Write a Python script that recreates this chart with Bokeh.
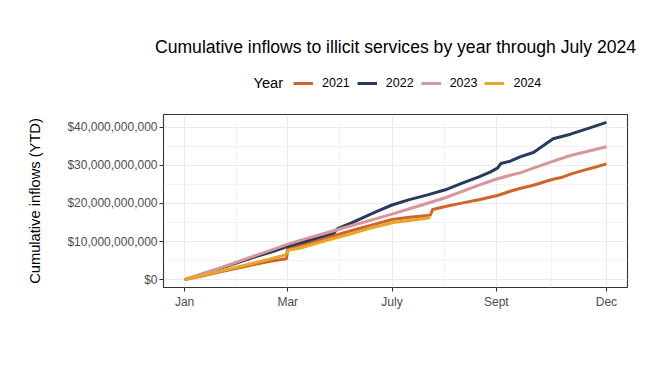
from bokeh.plotting import figure
from bokeh.layouts import column
from bokeh.models import (Range1d, FixedTicker, NumeralTickFormatter, Legend,
                          LegendItem, Label, Spacer)
from bokeh.embed import file_html
from bokeh.resources import INLINE

TITLE = "Cumulative inflows to illicit services by year through July 2024"
Y_LABEL = "Cumulative inflows (YTD)"
LEGEND_TITLE = "Year"

# x axis: day of year, tick labels as shown
x_tick_days = [1, 90, 180, 270, 365]
x_tick_labels = ["Jan", "Mar", "July", "Sept", "Dec"]
x_minor_days = [45.5, 135, 225, 317.5]
y_ticks = [0, 10e9, 20e9, 30e9, 40e9]
y_minor = [5e9, 15e9, 25e9, 35e9]

years = ["2021", "2022", "2023", "2024"]
colors = ["#D0652A", "#283A5E", "#D8959B", "#E9A626"]

# cumulative inflows in billions USD, by day of year
days_2021 = [1, 15, 30, 45, 60, 75, 89, 90, 105, 120, 135, 150, 167, 180, 195, 213,
             215, 226, 240, 255, 271, 282, 291, 302, 318, 326, 334, 345, 355, 365]
vals_2021 = [0, 0.9, 1.9, 2.9, 3.9, 4.8, 5.5, 8.2, 9.4, 10.7, 12.0, 13.3, 14.7, 15.8, 16.4, 16.9,
             18.4, 19.2, 20.1, 21.0, 22.1, 23.2, 24.0, 24.8, 26.3, 26.8, 27.7, 28.7, 29.5, 30.4]

days_2022 = [1, 15, 30, 45, 60, 75, 89, 105, 120, 130, 133, 145, 155, 167, 180, 195, 210,
             226, 240, 255, 265, 271, 274, 282, 291, 302, 311, 319, 334, 350, 365]
vals_2022 = [0, 1.3, 2.8, 4.3, 5.8, 7.2, 8.6, 10.0, 11.4, 12.3, 13.4, 14.9, 16.3, 17.9, 19.6, 21.0, 22.2,
             23.6, 25.3, 27.0, 28.3, 29.3, 30.5, 31.1, 32.3, 33.4, 35.3, 37.0, 38.2, 39.8, 41.3]

days_2023 = [1, 15, 30, 45, 60, 75, 89, 105, 120, 135, 150, 165, 180, 195, 210, 226,
             240, 255, 271, 282, 291, 305, 318, 334, 350, 365]
vals_2023 = [0, 1.4, 2.9, 4.5, 6.1, 7.7, 9.2, 10.7, 12.0, 13.3, 14.6, 15.9, 17.2, 18.6, 20.0, 21.5,
             23.1, 24.8, 26.5, 27.4, 28.1, 29.6, 31.0, 32.6, 33.8, 34.9]

days_2024 = [1, 15, 30, 45, 60, 75, 88, 91, 101, 120, 144, 160, 181, 195, 205, 213]
vals_2024 = [0, 1.0, 2.1, 3.2, 4.3, 5.4, 6.5, 7.8, 8.3, 10.0, 12.0, 13.4, 15.0, 15.5, 15.9, 16.3]

series_days = [days_2021, days_2022, days_2023, days_2024]
series_vals = [vals_2021, vals_2022, vals_2023, vals_2024]

FONT = "Liberation Sans"
W = 657
FRAME_L, FRAME_W = 163, 464
TOP_PAD = 29
HDR_H = 71
MAIN_H = 274

# ---- header: title + legend row ----
hdr = figure(width=W, height=HDR_H, output_backend="svg", toolbar_location=None,
             title=TITLE, x_range=Range1d(-1000, -536), y_range=Range1d(-1000, -900),
             x_axis_type=None, y_axis_type=None,
             min_border_left=FRAME_L, min_border_right=W - FRAME_L - FRAME_W,
             min_border_top=0, min_border_bottom=0)
hdr.title.align = "center"
hdr.title.text_font = FONT
hdr.title.text_font_size = "17.6px"
hdr.title.text_font_style = "normal"
hdr.title.text_color = "black"
hdr.outline_line_color = None
hdr.grid.visible = False
hdr.background_fill_color = "white"
hdr.border_fill_color = "white"

# key renderers (their data lie outside the header's ranges, only the keys show)
key_renderers = [hdr.line(ds, [v * 1e9 for v in vs], line_color=c, line_width=3)
                 for c, ds, vs in zip(colors, series_days, series_vals)]
legend = Legend(items=[LegendItem(label=yr, renderers=[r]) for yr, r in zip(years, key_renderers)],
                orientation="horizontal", location=(130, 9.5),
                glyph_width=20, glyph_height=16, label_height=16, label_standoff=9,
                spacing=7, padding=0, margin=0, border_line_color=None,
                background_fill_alpha=0, label_text_font=FONT,
                label_text_font_size="12.5px", label_text_color="black")
hdr.add_layout(legend)
hdr.add_layout(Label(x=90, y=17.5, x_units="screen", y_units="screen", text=LEGEND_TITLE,
                     text_align="left", text_baseline="alphabetic", text_font=FONT,
                     text_font_size="14.7px", text_color="black"))

# ---- main chart ----
p = figure(width=W, height=MAIN_H, output_backend="svg", toolbar_location=None, title=None,
           x_range=Range1d(-17.2, 383.2), y_range=Range1d(-2.07e9, 43.37e9),
           min_border_left=FRAME_L, min_border_right=W - FRAME_L - FRAME_W,
           min_border_top=14, min_border_bottom=87)
p.background_fill_color = "white"
p.border_fill_color = "white"
p.outline_line_color = "#333333"
p.outline_line_width = 1.1

p.xaxis.ticker = FixedTicker(ticks=x_tick_days, minor_ticks=x_minor_days)
p.yaxis.ticker = FixedTicker(ticks=y_ticks, minor_ticks=y_minor)
p.xaxis.major_label_overrides = {d: lab for d, lab in zip(x_tick_days, x_tick_labels)}
p.yaxis.formatter = NumeralTickFormatter(format="$0,0")

for ax in (p.xaxis, p.yaxis):
    ax.axis_line_color = None
    ax.major_tick_line_color = "#333333"
    ax.major_tick_line_width = 1.1
    ax.major_tick_out = 4
    ax.major_tick_in = 0
    ax.minor_tick_line_color = None
    ax.major_label_text_font = FONT
    ax.major_label_text_font_size = "12px"
    ax.major_label_text_color = "#4D4D4D"
p.xaxis.major_label_standoff = 3
p.yaxis.major_label_standoff = 2

p.yaxis.axis_label = Y_LABEL
p.yaxis.axis_label_text_font = FONT
p.yaxis.axis_label_text_font_size = "14.7px"
p.yaxis.axis_label_text_font_style = "normal"
p.yaxis.axis_label_text_color = "black"
p.yaxis.axis_label_standoff = 21

for g in (p.xgrid, p.ygrid):
    g.grid_line_color = "#EBEBEB"
    g.grid_line_width = 1.1
    g.minor_grid_line_color = "#EBEBEB"
    g.minor_grid_line_width = 0.6

for yr, col, ds, vs in zip(years, colors, series_days, series_vals):
    p.line(ds, [v * 1e9 for v in vs], line_color=col, line_width=3, line_join="round")

layout = column(Spacer(width=W, height=TOP_PAD), hdr, p, spacing=0)
open("out.html", "w").write(file_html(layout, INLINE))
